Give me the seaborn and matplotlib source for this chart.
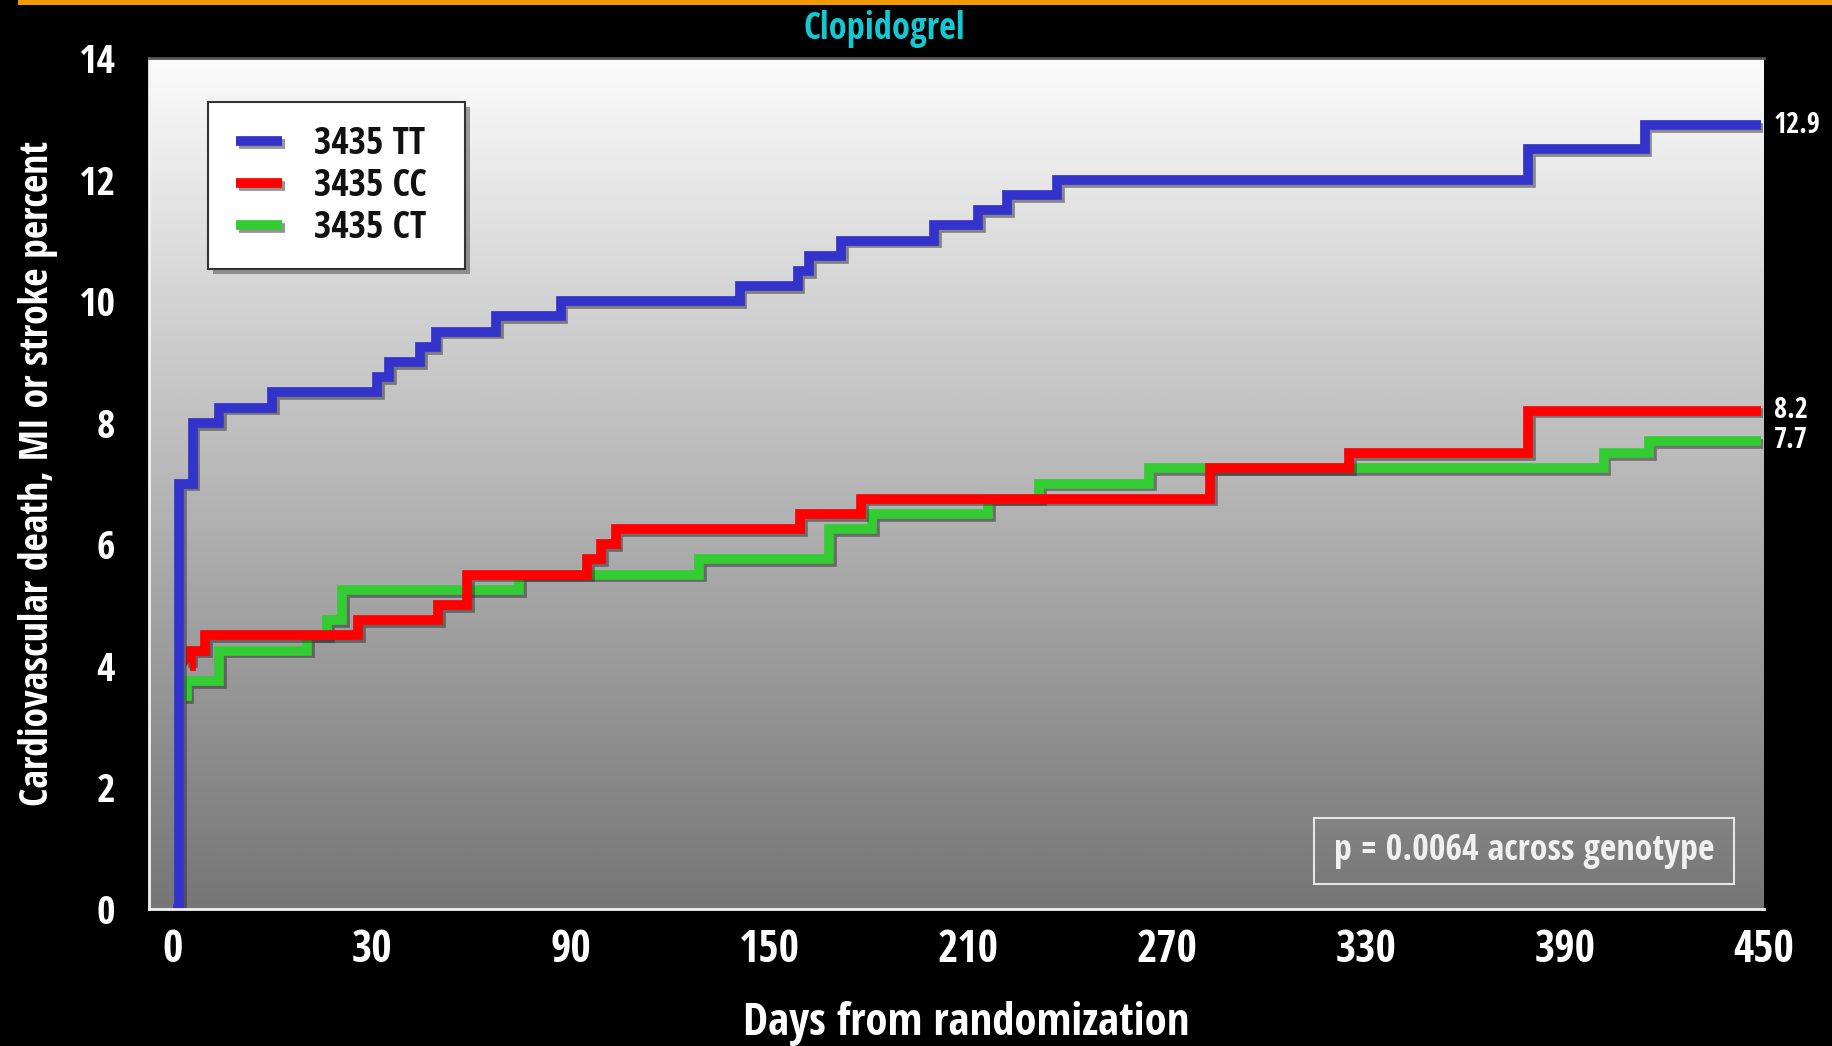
import os
import numpy as np
import pandas as pd
import matplotlib
matplotlib.use("Agg")
import matplotlib.pyplot as plt
import matplotlib.patheffects as pe
from matplotlib.lines import Line2D
from matplotlib.patches import Rectangle
from matplotlib.colors import LinearSegmentedColormap
from matplotlib import font_manager
from matplotlib.font_manager import FontProperties
import seaborn as sns

# Cumulative event rate steps: day of change and percent from that day on
tt_days = [0, 1, 3, 7, 15, 31.7, 35.2, 44.7, 49.3, 67.6, 87, 141, 158.5, 162,
           171.5, 199.7, 213, 221.6, 236.7, 378.8, 414, 449]
tt_pct = [0, 7.0, 8.0, 8.25, 8.5, 8.75, 9.0, 9.25, 9.5, 9.75, 10.0, 10.25,
          10.5, 10.75, 11.0, 11.25, 11.5, 11.75, 12.0, 12.5, 12.9, 12.9]

cc_days = [2.6, 2.7, 4.9, 28, 50, 58.8, 95.1, 99.3, 103.6, 159.2, 177.6,
           282.9, 324.9, 378.8, 449]
cc_pct = [4.0, 4.25, 4.5, 4.75, 5.0, 5.5, 5.75, 6.0, 6.25, 6.5, 6.75,
          7.25, 7.5, 8.2, 8.2]

ct_days = [1.6, 2.1, 7.0, 20.3, 23.3, 25.6, 74.6, 128.9, 168.0, 181.0,
           215.9, 231.4, 264.6, 401.6, 415.4, 449]
ct_pct = [3.5, 3.75, 4.25, 4.5, 4.75, 5.25, 5.5, 5.75, 6.25, 6.5,
          6.75, 7.0, 7.25, 7.5, 7.7, 7.7]

genotypes = ["3435 TT", "3435 CC", "3435 CT"]
end_labels = ["12.9", "8.2", "7.7"]
end_values = [12.9, 8.2, 7.7]

day_ticks = [0, 30, 90, 150, 210, 270, 330, 390, 450]
pct_ticks = [0, 2, 4, 6, 8, 10, 12, 14]

title_text = "Clopidogrel"
x_title = "Days from randomization"
y_title = "Cardiovascular death, MI or stroke percent"
p_text = "p = 0.0064 across genotype"

colors = {"3435 TT": "#3333cc", "3435 CC": "#ff0000", "3435 CT": "#33cc33"}

sns.set_theme(style="white")
installed = {f.name for f in font_manager.fontManager.ttflist}
family = [f for f in ["Liberation Sans Narrow", "Roboto Condensed",
                      "Liberation Sans", "DejaVu Sans"] if f in installed]
plt.rcParams["font.family"] = family
plt.rcParams["font.weight"] = "bold"

fig = plt.figure(figsize=(18.32, 10.46), dpi=100, facecolor="black")
renderer = fig.canvas.get_renderer()


def weight_num(w):
    if isinstance(w, int):
        return w
    return {"bold": 700, "normal": 400, "regular": 400, "semibold": 600,
            "demibold": 600, "heavy": 800, "black": 900}.get(str(w).lower(), 400)


def em_width(fp, s):
    fp = fp.copy()
    fp.set_size(72)  # 72 pt = 100 px at dpi 100
    t = fig.text(0, 0, s, fontproperties=fp)
    w = t.get_window_extent(renderer).width
    t.remove()
    return w / 100.0


def narrow_bold_face():
    """Upright bold narrow sans face whose proportions are closest to a
    narrow grotesque (about 9.8 em for the x-axis title)."""
    best = None
    seen = set()
    for f in font_manager.fontManager.ttflist:
        key = (f.name + " " + os.path.basename(f.fname)).lower()
        narrow = (any(k in key for k in ("narrow", "condensed"))
                  or str(f.stretch) in ("condensed", "semi-condensed",
                                        "extra-condensed"))
        if not narrow or f.style != "normal" or f.fname in seen:
            continue
        seen.add(f.fname)
        if any(k in key for k in ("italic", "oblique", "mono")):
            continue
        if "serif" in key and "sans" not in key:
            continue
        w = weight_num(f.weight)
        if w < 600 or w > 800:
            continue
        fp = FontProperties(fname=f.fname)
        try:
            ew = em_width(fp, x_title)
        except Exception:
            continue
        score = abs(ew - 9.84) + 0.002 * abs(w - 700)
        if best is None or score < best[0]:
            best = (score, fp)
    return best[1] if best else None


base_fp = narrow_bold_face() or FontProperties(family=family, weight="bold")


def fp_at(size):
    fp = base_fp.copy()
    fp.set_size(size)
    return fp


def fitted_size(s, target_px):
    t = fig.text(0, 0, s, fontproperties=fp_at(20))
    w = t.get_window_extent(renderer).width
    t.remove()
    return 20.0 * target_px / w


def text_height(s, size):
    t = fig.text(0, 0, s, fontproperties=fp_at(size))
    h = t.get_window_extent(renderer).height
    t.remove()
    return h


# orange rule along the top edge
fig.patches.append(Rectangle((0.0098, 1 - 5 / 1046), 1.0, 5 / 1046,
                             transform=fig.transFigure, facecolor="#f29a00",
                             edgecolor="none", zorder=5))

pos = [0.0816, 0.1313, 0.8813, 0.8129]

# grey-to-white vertical gradient behind the curves
bg = fig.add_axes(pos, zorder=0)
stops = [(0.0, "#767676"), (0.15, "#888888"), (0.3, "#9c9c9c"),
         (0.45, "#b0b0b0"), (0.6, "#c4c4c4"), (0.75, "#d8d8d8"),
         (0.88, "#ebebeb"), (1.0, "#fcfcfc")]
panel_cmap = LinearSegmentedColormap.from_list("panel", stops)
bg.imshow(np.linspace(0, 1, 512)[:, None], cmap=panel_cmap, aspect="auto",
          origin="lower", extent=[0, 1, 0, 1])
bg.set_axis_off()

ax = fig.add_axes(pos, zorder=1)
ax.set_facecolor("none")

frames = []
for name, d, p in [("3435 CT", ct_days, ct_pct), ("3435 CC", cc_days, cc_pct),
                   ("3435 TT", tt_days, tt_pct)]:
    frames.append(pd.DataFrame({"day": d, "pct": p, "genotype": name}))
df = pd.concat(frames, ignore_index=True)

shadow = [pe.SimpleLineShadow(offset=(2.0, -2.0), shadow_color="#2a2a2a", alpha=0.5),
          pe.Normal()]
sns.lineplot(data=df, x="day", y="pct", hue="genotype",
             hue_order=["3435 CT", "3435 CC", "3435 TT"], palette=colors,
             drawstyle="steps-post", linewidth=7, estimator=None, sort=False,
             legend=False, ax=ax, path_effects=shadow,
             solid_capstyle="butt", solid_joinstyle="miter")


# day axis: first interval (0-30) gets the same width as each 60-day interval
def fwd(d):
    d = np.asarray(d, dtype=float)
    return np.where(d < 30, d / 30.0, 1 + (d - 30) / 60.0)


def inv(u):
    u = np.asarray(u, dtype=float)
    return np.where(u < 1, u * 30.0, 30 + (u - 1) * 60.0)


ax.set_xscale("function", functions=(fwd, inv))
ax.set_xlim(-3.5, 450)
ax.set_ylim(0, 14)
ax.set_xticks(day_ticks, labels=[str(t) for t in day_ticks])
ax.set_yticks(pct_ticks, labels=[str(t) for t in pct_ticks])
ax.minorticks_off()

xtick_size = fitted_size("450", 61)
ytick_size = fitted_size("14", 37)
ax.tick_params(axis="x", colors="white", length=9, width=1.5, pad=5,
               direction="out")
ax.tick_params(axis="y", colors="white", length=9, width=1.5, pad=16,
               direction="out")
for lab in ax.get_xticklabels():
    lab.set_fontproperties(fp_at(xtick_size))
for lab in ax.get_yticklabels():
    lab.set_fontproperties(fp_at(ytick_size))

for side in ["left", "bottom"]:
    ax.spines[side].set_color("#f2f2f2")
    ax.spines[side].set_linewidth(2)
ax.spines["top"].set_color("#555555")
ax.spines["top"].set_linewidth(2)
ax.spines["right"].set_visible(False)

ax.set_xlabel(x_title, color="white",
              fontproperties=fp_at(fitted_size(x_title, 445)))
ax.set_ylabel(y_title, color="white",
              fontproperties=fp_at(fitted_size(y_title, 666)))
ax.xaxis.set_label_coords(0.5057, -0.1350)
ax.xaxis.label.set_va("center")
ax.yaxis.set_label_coords(-0.0690, 0.5124)
ax.yaxis.label.set_va("center")

fig.text(0.4826, 0.9725, title_text, color="#14c8d2",
         fontproperties=fp_at(fitted_size(title_text, 161)),
         ha="center", va="center")

# end-of-follow-up rates at the right margin
end_size = fitted_size("12.9", 47)
for lab, val in zip(end_labels, end_values):
    ax.text(1.0060, val, lab, transform=ax.get_yaxis_transform(), color="white",
            fontproperties=fp_at(end_size), ha="left", va="center")

# legend: framed white box with a drop shadow
box_x0, box_x1 = 0.03623, 0.19542
box_y0, box_y1 = 0.75232, 0.94872
ax_w_px, ax_h_px = 1614.5, 850.3
ax.add_patch(Rectangle((box_x0 + 5 / ax_w_px, box_y0 - 5 / ax_h_px),
                       box_x1 - box_x0, box_y1 - box_y0, transform=ax.transAxes,
                       facecolor="#333333", alpha=0.45, edgecolor="none",
                       zorder=4))
ax.add_patch(Rectangle((box_x0, box_y0), box_x1 - box_x0, box_y1 - box_y0,
                       transform=ax.transAxes, facecolor="white",
                       edgecolor="#333333", linewidth=1.5, zorder=5))

leg_size = fitted_size("3435 CC", 113)
leg_px = leg_size * 100 / 72
row_h = text_height("3435 CC", leg_size)
handles = [Line2D([], [], color=colors[g], linewidth=7, solid_capstyle="butt",
                  path_effects=shadow) for g in genotypes]
leg = ax.legend(handles, genotypes, loc="center left",
                bbox_to_anchor=(0.0536, 0.8494), borderaxespad=0,
                prop=fp_at(leg_size), frameon=False, borderpad=0,
                handlelength=46 / leg_px, handletextpad=32 / leg_px,
                labelspacing=max(0.0, (42 - row_h) / leg_px))
leg.set_zorder(6)
for t in leg.get_texts():
    t.set_color("#111111")

# significance note in an outlined box
ax.add_patch(Rectangle((0.7213, 0.0291), 0.9814 - 0.7213, 0.1067 - 0.0291,
                       transform=ax.transAxes, facecolor="none",
                       edgecolor="#e6e6e6", linewidth=1.5, zorder=5))
ax.text(0.8513, 0.0679, p_text, transform=ax.transAxes, color="#f0f0f0",
        fontproperties=fp_at(fitted_size(p_text, 381)),
        ha="center", va="center", zorder=6)

fig.savefig("out.png", dpi=100, facecolor="black")
